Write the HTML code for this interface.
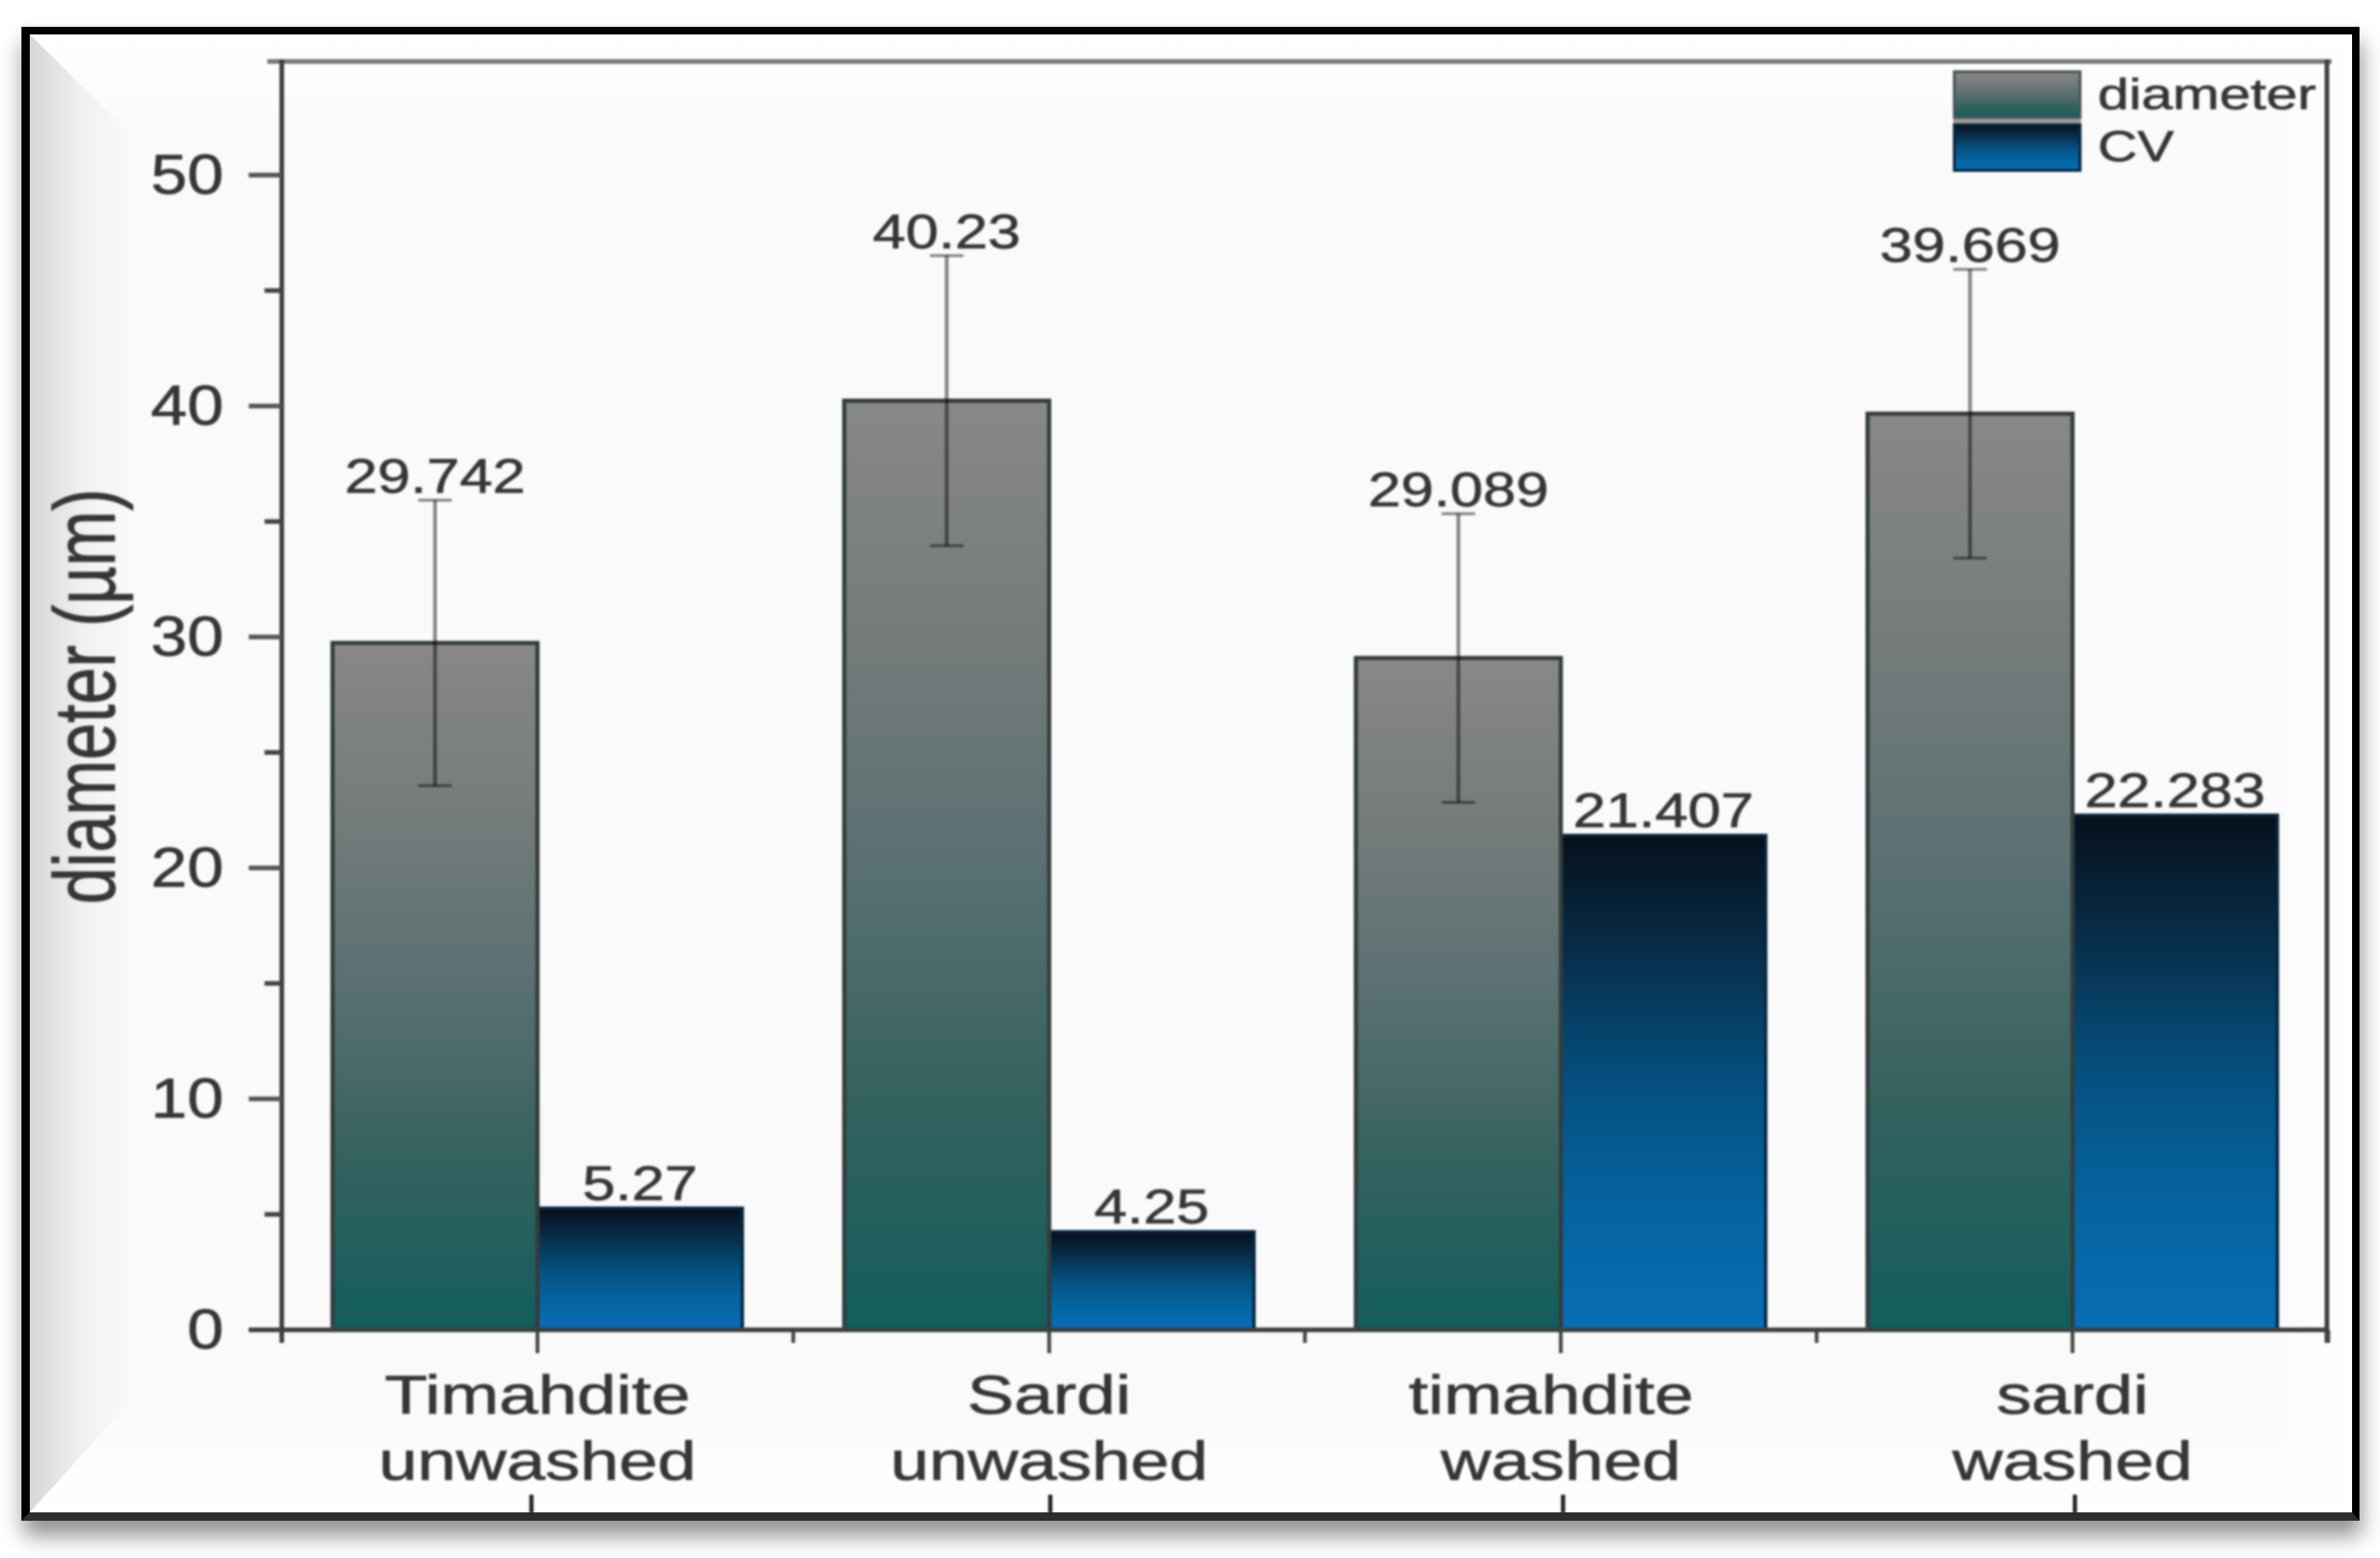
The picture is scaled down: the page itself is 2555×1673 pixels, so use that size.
<!DOCTYPE html>
<html lang="en">
<head>
<meta charset="utf-8">
<title>Fibre diameter and CV bar chart</title>
<style>
html,body{margin:0;padding:0;background:#fff;width:2555px;height:1673px;overflow:hidden}
#frame{position:absolute;left:23px;top:29px;width:2510px;height:1604px;box-sizing:border-box;background:#fafafa;
  border:solid #000;border-width:8px 8px 9px 9px;border-bottom-color:#2e2e2e;
  box-shadow:0 -1px 1px #ccc,2px 16px 22px rgba(0,0,0,.44)}
#chart{position:absolute;left:0;top:0}
text{font-family:"Liberation Sans",Arial,sans-serif;fill:#363636;stroke:#363636;stroke-width:.7px}
</style>
</head>
<body>
<div id="frame"></div>
<svg id="chart" xmlns="http://www.w3.org/2000/svg" width="2555" height="1673" viewBox="0 0 2555 1673">
  <defs>
    <linearGradient id="gradDiameter" x1="0" y1="0" x2="0" y2="1">
      <stop offset="0" stop-color="#888888"/>
      <stop offset="0.25" stop-color="#757b7b"/>
      <stop offset="0.5" stop-color="#5a7071"/>
      <stop offset="0.75" stop-color="#35625f"/>
      <stop offset="1" stop-color="#125e5c"/>
    </linearGradient>
    <linearGradient id="gradCv" x1="0" y1="0" x2="0" y2="1">
      <stop offset="0" stop-color="#07101a"/>
      <stop offset="0.25" stop-color="#082f4c"/>
      <stop offset="0.5" stop-color="#05507f"/>
      <stop offset="0.75" stop-color="#0563a0"/>
      <stop offset="1" stop-color="#096eb5"/>
    </linearGradient>
    <linearGradient id="bevelLeft" gradientUnits="userSpaceOnUse" x1="32" y1="0" x2="145" y2="0">
      <stop offset="0" stop-color="#d6d6d6"/>
      <stop offset="0.5" stop-color="#f1f1f1"/>
      <stop offset="1" stop-color="#fafafa"/>
    </linearGradient>
    <linearGradient id="bevelTop" gradientUnits="userSpaceOnUse" x1="0" y1="37" x2="0" y2="138">
      <stop offset="0" stop-color="#ffffff"/>
      <stop offset="1" stop-color="#fafafa"/>
    </linearGradient>
    <linearGradient id="bevelBottom" gradientUnits="userSpaceOnUse" x1="0" y1="1624" x2="0" y2="1520">
      <stop offset="0" stop-color="#ffffff"/>
      <stop offset="1" stop-color="#fafafa"/>
    </linearGradient>
    <linearGradient id="bevelRight" gradientUnits="userSpaceOnUse" x1="2525" y1="0" x2="2425" y2="0">
      <stop offset="0" stop-color="#ffffff"/>
      <stop offset="1" stop-color="#fafafa"/>
    </linearGradient>
  </defs>
  <g>
    <polygon points="32,37 2525,37 2425,138 134,138" fill="url(#bevelTop)"/>
    <polygon points="2525,37 2525,1624 2425,1520 2425,138" fill="url(#bevelRight)"/>
    <polygon points="32,1624 2525,1624 2425,1520 126,1520" fill="url(#bevelBottom)"/>
    <polygon points="32,37 145,149 145,1499 32,1624" fill="url(#bevelLeft)"/>
  </g>
  <g stroke="#222222" stroke-width="4.5" style="filter:blur(1px)">
    <line x1="570.5" y1="1605" x2="570.5" y2="1625"/>
    <line x1="1127.5" y1="1605" x2="1127.5" y2="1625"/>
    <line x1="1678" y1="1605" x2="1678" y2="1625"/>
    <line x1="2227.5" y1="1605" x2="2227.5" y2="1625"/>
  </g>
  <g id="plot" style="filter:blur(1px)"></g>
</svg>
<script>
const categories = [['Timahdite', 'unwashed'], ['Sardi', 'unwashed'], ['timahdite\u00a0', 'washed'], ['sardi', 'washed']];
const diameterValues = [29.742, 40.23, 29.089, 39.669];
const diameterErrors = [6.18, 6.28, 6.25, 6.25];
const cvValues = [5.27, 4.25, 21.407, 22.283];
const yMajorTicks = [0, 10, 20, 30, 40, 50];
const yMinorTicks = [5, 15, 25, 35, 45];
const legendLabels = ['diameter', 'CV'];
const yTitle = 'diameter (\u00b5m)';

const NS = 'http://www.w3.org/2000/svg';
const plot = document.getElementById('plot');
const yScale = v => 1428 - v * 24.8;
const xScale = i => 577 + i * 549.3;
const BAR_W = 220;
const AXIS = '#3f3f3f';

function make(tag, attrs, parent) {
  const el = document.createElementNS(NS, tag);
  for (const k in attrs) el.setAttribute(k, attrs[k]);
  (parent || plot).appendChild(el);
  return el;
}
function line(x1, y1, x2, y2, stroke, width) {
  return make('line', {x1: x1, y1: y1, x2: x2, y2: y2, stroke: stroke, 'stroke-width': width});
}
function label(str, x, y, size, sx, anchor) {
  const t = make('text', {transform: 'translate(' + x + ',' + y + ') scale(' + sx + ',1)', 'font-size': size, 'text-anchor': anchor});
  t.textContent = str;
  return t;
}
let el;

/* axes */
el = line(287, 66, 2503, 66, '#777777', 5);


el = line(302.5, 64, 302.5, 1442, AXIS, 5);


el = line(2498, 64, 2498, 1442, AXIS, 5);



yMajorTicks.forEach(v => {
  let n = line(267, yScale(v), 302, yScale(v), '#555555', 5);
  
  
  n = label(String(v), 240, yScale(v) + 20, 60, 1.17, 'end');
  
  
});
yMinorTicks.forEach(v => {
  const n = line(284, yScale(v), 302, yScale(v), '#444444', 5);
  
  
});

el = label(yTitle, 0, 0, 71.5, 1, 'start');
el.setAttribute('transform', 'translate(123,971) rotate(-90) scale(1,1.3)');



/* bars */
categories.forEach((c, i) => {
  const cx = xScale(i);
  let n = make('rect', {x: cx, y: yScale(cvValues[i]), width: BAR_W, height: yScale(0) - yScale(cvValues[i]), fill: 'url(#gradCv)', stroke: '#05263f', 'stroke-width': 3.5});
  
  
  n = make('rect', {x: cx - BAR_W, y: yScale(diameterValues[i]), width: BAR_W, height: yScale(0) - yScale(diameterValues[i]), fill: 'url(#gradDiameter)', stroke: '#333d3d', 'stroke-width': 4.5});
  
  

  const ex = cx - BAR_W / 2;
  const top = yScale(diameterValues[i] + diameterErrors[i]);
  const bottom = yScale(diameterValues[i] - diameterErrors[i]);
  n = line(ex, top, ex, bottom, 'rgba(0,0,0,.47)', 4);
  
  
  n = line(ex - 18, top, ex + 18, top, 'rgba(0,0,0,.47)', 3);
  
  
  n = line(ex - 18, bottom, ex + 18, bottom, 'rgba(0,0,0,.47)', 3);
  
  

  n = label(String(diameterValues[i]), ex, top - 8, 52, 1.22, 'middle');
  
  
  n = label(String(cvValues[i]), cx + BAR_W / 2, yScale(cvValues[i]) - 9, 52, 1.22, 'middle');
  
  

  n = line(cx, 1428, cx, 1453, '#444444', 4);
  
  
  n = line(cx + 274.6, 1428, cx + 274.6, 1442, '#444444', 4);
  
  

  n = label(c[0], cx, 1518, 58, 1.3, 'middle');
  
  
  n = label(c[1], cx, 1589, 58, 1.29, 'middle');
  
  
});

el = line(267, 1428, 2500, 1428, AXIS, 5);


el = line(302.5, 1428, 302.5, 1442, AXIS, 5);



/* legend */
el = make('rect', {x: 2097, y: 126, width: 137, height: 7, fill: '#9a9a9a'});


el = make('rect', {x: 2098, y: 77, width: 135, height: 49, fill: 'url(#gradDiameter)', stroke: '#4a5454', 'stroke-width': 3});


el = make('rect', {x: 2098, y: 134, width: 135, height: 49, fill: 'url(#gradCv)', stroke: '#06243a', 'stroke-width': 3});


el = label(legendLabels[0], 2252, 117, 46, 1.31, 'start');


el = label(legendLabels[1], 2252, 173, 46, 1.28, 'start');


</script>
</body>
</html>
